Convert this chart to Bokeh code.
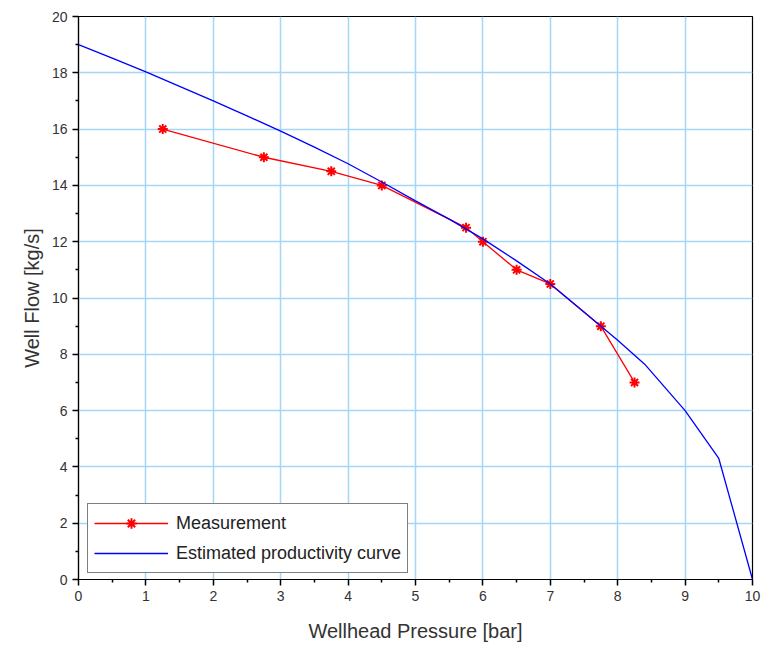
from bokeh.plotting import figure
from bokeh.models import Legend, LegendItem, FixedTicker, Range1d, LinearAxis, Grid
from bokeh.embed import file_html
from bokeh.resources import INLINE

# Measurements
meas_p = [1.25, 2.75, 3.75, 4.5, 5.75, 6.0, 6.5, 7.0, 7.75, 8.25]
meas_q = [16.0, 15.0, 14.5, 14.0, 12.5, 12.0, 11.0, 10.5, 9.0, 7.0]

# Estimated productivity curve
curve_p = [0, 0.5, 1, 1.5, 2, 2.5, 3, 3.5, 4, 4.5, 5, 5.5, 6, 6.5, 7, 7.5, 8, 8.4, 9, 9.5, 10]
curve_q = [19.0, 18.52, 18.03, 17.52, 17.0, 16.47, 15.93, 15.36, 14.77, 14.12, 13.45, 12.8, 12.1, 11.32, 10.5, 9.5, 8.5, 7.65, 6.0, 4.3, 0.0]

x_ticks = list(range(0, 11))
y_ticks = list(range(0, 21, 2))

FONT = "Liberation Sans"

p = figure(frame_width=674, frame_height=563, output_backend="svg", toolbar_location=None,
           x_range=Range1d(0, 10), y_range=Range1d(0, 20),
           x_axis_type=None, y_axis_type=None,
           min_border_left=78, min_border_right=11, min_border_top=16, min_border_bottom=69)

p.background_fill_color = "white"
p.border_fill_color = "white"
p.outline_line_color = "black"
p.outline_line_width = 1.2

xticker = FixedTicker(ticks=x_ticks, minor_ticks=[i + 0.5 for i in range(10)])
yticker = FixedTicker(ticks=y_ticks, minor_ticks=[i for i in range(1, 20, 2)])
xaxis = LinearAxis(ticker=xticker, axis_label="Wellhead Pressure [bar]")
yaxis = LinearAxis(ticker=yticker, axis_label="Well Flow [kg/s]")
for ax in (xaxis, yaxis):
    ax.major_label_text_font = FONT
    ax.major_label_text_font_size = "14px"
    ax.major_label_text_color = "#333333"
    ax.axis_label_text_font = FONT
    ax.axis_label_text_font_size = "20px"
    ax.axis_label_text_font_style = "normal"
    ax.axis_label_text_color = "#333333"
    ax.axis_line_color = "#000000"
    ax.axis_line_width = 1.2
    ax.major_tick_line_color = "#000000"
    ax.major_tick_line_width = 1.5
    ax.minor_tick_line_color = "#000000"
    ax.minor_tick_line_width = 1.5
    ax.major_tick_in = 0
    ax.major_tick_out = 6
    ax.minor_tick_in = 0
    ax.minor_tick_out = 3
    ax.major_label_standoff = 5
xaxis.axis_label_standoff = 16
yaxis.axis_label_standoff = 6
p.add_layout(xaxis, "below")
p.add_layout(yaxis, "left")

xgrid = Grid(dimension=0, ticker=xticker, grid_line_color="#a3d6f7", grid_line_width=1.5)
ygrid = Grid(dimension=1, ticker=yticker, grid_line_color="#a3d6f7", grid_line_width=1.5)
p.add_layout(xgrid)
p.add_layout(ygrid)

r_line = p.line(meas_p, meas_q, line_color="red", line_width=1.3)
r_mark = p.scatter(meas_p, meas_q, marker="asterisk", size=10, line_color="red", line_width=2)
b_line = p.line(curve_p, curve_q, line_color="blue", line_width=1.3)

legend = Legend(items=[LegendItem(label="Measurement", renderers=[r_line, r_mark]),
                       LegendItem(label="Estimated productivity curve", renderers=[b_line])],
                location=(9, 6))
legend.label_text_font = FONT
legend.label_text_font_size = "18px"
legend.label_text_color = "#222222"
legend.glyph_width = 74
legend.glyph_height = 26
legend.label_height = 26
legend.spacing = 4
legend.padding = 6
legend.margin = 0
legend.label_standoff = 8
legend.border_line_color = "black"
legend.border_line_width = 1.2
legend.background_fill_alpha = 1.0
p.add_layout(legend, "center")

open("out.html", "w").write(file_html(p, INLINE))
